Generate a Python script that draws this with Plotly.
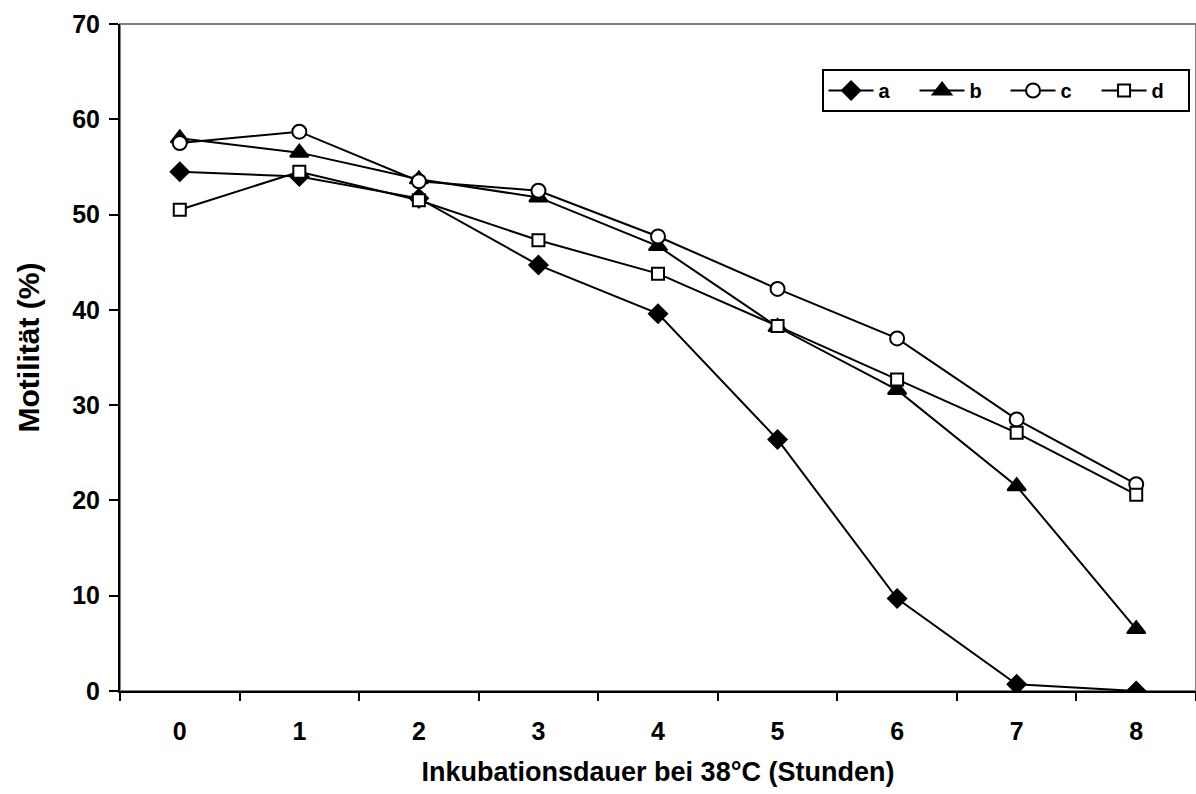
import plotly.graph_objects as go

hours = [0, 1, 2, 3, 4, 5, 6, 7, 8]
tick_labels = ["0", "1", "2", "3", "4", "5", "6", "7", "8"]
series_a = [54.5, 54.0, 51.7, 44.7, 39.6, 26.4, 9.7, 0.7, 0.0]
series_b = [58.0, 56.5, 53.7, 51.8, 46.7, 38.2, 31.6, 21.5, 6.5]
series_c = [57.5, 58.7, 53.5, 52.5, 47.7, 42.2, 37.0, 28.5, 21.7]
series_d = [50.5, 54.5, 51.5, 47.3, 43.8, 38.3, 32.7, 27.1, 20.6]
y_ticks = [0, 10, 20, 30, 40, 50, 60, 70]

FONT = "Arial, Liberation Sans, sans-serif"

fig = go.Figure()

def add(name, ys, symbol, size, fill):
    fig.add_trace(go.Scatter(
        x=hours, y=ys, name=name, mode="lines+markers",
        line=dict(color="black", width=2),
        marker=dict(symbol=symbol, size=size, color=fill,
                    line=dict(color="black", width=2)),
    ))

add("a", series_a, "diamond", 14, "black")
add("b", series_b, "triangle-up", 16, "black")
add("c", series_c, "circle", 14, "white")
add("d", series_d, "square", 12, "white")

# gray plot-area border
fig.add_shape(type="rect", xref="paper", yref="paper", x0=0, y0=0, x1=1, y1=1,
              line=dict(color="#808080", width=2), layer="below")

# y-axis title
fig.add_annotation(text="Motilität (%)", xref="paper", yref="paper",
                   x=-0.0855, y=0.515, xanchor="center", yanchor="middle",
                   textangle=-90, showarrow=False,
                   font=dict(size=30, family=FONT, weight=700, color="black"))

fig.update_layout(
    width=1196, height=794,
    margin=dict(l=120, r=0, t=24, b=103, autoexpand=False),
    paper_bgcolor="white", plot_bgcolor="white",
    font=dict(family=FONT, color="black", size=25, weight=700),
    showlegend=True,
    legend=dict(
        orientation="h", x=0.652, y=0.9325, xanchor="left", yanchor="top",
        bordercolor="black", borderwidth=2, bgcolor="white",
        font=dict(size=20, family=FONT, weight=700),
        itemwidth=45, entrywidth=31, tracegroupgap=0,
    ),
    xaxis=dict(
        range=[-0.5, 8.5], tickmode="array", tickvals=hours, ticktext=tick_labels,
        ticks="", showgrid=False, zeroline=False,
        showline=True, linecolor="black", linewidth=2,
        tickfont=dict(size=25, family=FONT, weight=700),
        ticklabelstandoff=17,
        minor=dict(tickmode="array", tickvals=[i - 0.5 for i in range(10)],
                   ticks="outside", ticklen=8, tickwidth=2, tickcolor="black"),
        title=dict(text="Inkubationsdauer bei 38°C (Stunden)", standoff=18,
                   font=dict(size=27, family=FONT, weight=700)),
    ),
    yaxis=dict(
        range=[0, 70], tickmode="array", tickvals=y_ticks,
        ticks="outside", ticklen=9, tickwidth=2, tickcolor="black",
        showgrid=False, zeroline=False,
        showline=True, linecolor="black", linewidth=2,
        tickfont=dict(size=25, family=FONT, weight=700),
        ticklabelstandoff=4,
    ),
)

fig.write_html("out.html")
